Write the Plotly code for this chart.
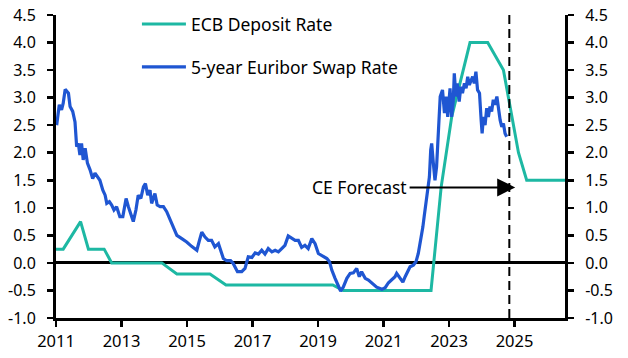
import plotly.graph_objects as go

# ECB deposit rate (decimal year, %), incl. CE forecast
ecb_years = [2011.00, 2011.22, 2011.75, 2011.99, 2012.47, 2012.70, 2014.23, 2014.69,
             2015.70, 2016.19, 2019.45, 2019.77, 2022.45, 2022.76, 2023.08, 2023.34,
             2023.64, 2024.18, 2024.66, 2025.12, 2025.37, 2026.54]
ecb_rate = [0.25, 0.25, 0.75, 0.25, 0.25, 0.00, 0.00, -0.20,
            -0.20, -0.40, -0.40, -0.50, -0.50, 1.38, 2.65, 3.29,
            4.00, 4.00, 3.50, 2.00, 1.50, 1.50]

# 5-year Euribor swap rate (decimal year, %)
swap_years = [2011.02, 2011.10, 2011.17, 2011.22, 2011.28, 2011.38, 2011.43, 2011.51, 2011.58, 2011.63,
              2011.68, 2011.73, 2011.78, 2011.83, 2011.89, 2011.96, 2012.04, 2012.12, 2012.19, 2012.26,
              2012.34, 2012.43, 2012.50, 2012.55, 2012.63, 2012.70, 2012.77, 2012.85, 2012.95, 2013.04,
              2013.14, 2013.21, 2013.28, 2013.36, 2013.44, 2013.51, 2013.59, 2013.67, 2013.73, 2013.80,
              2013.87, 2013.92, 2014.02, 2014.09, 2014.18, 2014.28, 2014.38, 2014.48, 2014.58, 2014.69,
              2014.84, 2014.99, 2015.14, 2015.30, 2015.38, 2015.45, 2015.55, 2015.65, 2015.75, 2015.85,
              2015.96, 2016.03, 2016.11, 2016.21, 2016.33, 2016.41, 2016.54, 2016.67, 2016.77, 2016.87,
              2016.98, 2017.08, 2017.18, 2017.28, 2017.38, 2017.48, 2017.59, 2017.69, 2017.79, 2017.89,
              2017.99, 2018.09, 2018.20, 2018.30, 2018.40, 2018.50, 2018.60, 2018.70, 2018.81, 2018.91,
              2019.01, 2019.11, 2019.27, 2019.35, 2019.42, 2019.52, 2019.62, 2019.69, 2019.77, 2019.88,
              2019.98, 2020.08, 2020.18, 2020.26, 2020.33, 2020.44, 2020.54, 2020.64, 2020.79, 2020.95,
              2021.05, 2021.15, 2021.25, 2021.35, 2021.40, 2021.48, 2021.59, 2021.66, 2021.73, 2021.81,
              2021.91, 2021.99, 2022.06, 2022.14, 2022.20, 2022.24, 2022.28, 2022.32, 2022.37, 2022.40,
              2022.44, 2022.47, 2022.52, 2022.57, 2022.62, 2022.67, 2022.73, 2022.80, 2022.86, 2022.91,
              2022.96, 2023.03, 2023.08, 2023.13, 2023.16, 2023.21, 2023.25, 2023.31, 2023.36, 2023.41,
              2023.47, 2023.52, 2023.57, 2023.62, 2023.67, 2023.72, 2023.77, 2023.82, 2023.87, 2023.93,
              2023.98, 2024.01, 2024.05, 2024.10, 2024.15, 2024.20, 2024.25, 2024.30, 2024.35, 2024.40,
              2024.46, 2024.51, 2024.56, 2024.61, 2024.66, 2024.71, 2024.76]
swap_rate = [2.50, 2.87, 2.78, 2.90, 3.15, 3.08, 2.84, 2.75, 2.56, 2.11,
             2.17, 1.96, 2.17, 1.87, 2.08, 1.81, 1.69, 1.53, 1.63, 1.56,
             1.50, 1.32, 1.23, 1.08, 1.11, 1.05, 0.96, 1.02, 0.84, 0.84,
             1.17, 1.02, 0.90, 0.75, 0.96, 1.23, 1.17, 1.38, 1.44, 1.23,
             1.32, 1.08, 1.26, 1.05, 1.02, 1.02, 0.93, 0.78, 0.63, 0.50,
             0.44, 0.38, 0.30, 0.23, 0.41, 0.56, 0.47, 0.41, 0.41, 0.29,
             0.35, 0.20, 0.08, 0.04, 0.04, -0.01, -0.16, -0.16, -0.10, 0.11,
             0.10, 0.18, 0.16, 0.23, 0.16, 0.26, 0.20, 0.23, 0.20, 0.26,
             0.32, 0.49, 0.45, 0.41, 0.41, 0.28, 0.32, 0.26, 0.44, 0.35,
             0.17, 0.14, 0.08, 0.02, -0.13, -0.28, -0.41, -0.51, -0.44, -0.28,
             -0.19, -0.18, -0.10, -0.25, -0.16, -0.28, -0.31, -0.37, -0.44, -0.48,
             -0.45, -0.36, -0.30, -0.25, -0.19, -0.25, -0.35, -0.25, -0.16, -0.07,
             -0.04, 0.02, 0.17, 0.41, 0.65, 0.84, 1.02, 1.26, 1.44, 1.56,
             2.05, 2.17, 1.81, 1.50, 1.75, 2.47, 3.02, 3.14, 2.72, 3.02,
             2.65, 3.17, 2.65, 2.96, 3.44, 3.02, 3.26, 2.93, 3.20, 3.08,
             3.26, 3.17, 3.38, 3.23, 3.29, 3.38, 3.26, 3.47, 3.14, 3.08,
             2.59, 2.35, 2.65, 2.50, 2.81, 2.65, 2.84, 2.75, 2.96, 2.87,
             3.02, 2.78, 2.59, 2.47, 2.53, 2.35, 2.29]

x_ticks = [2011, 2013, 2015, 2017, 2019, 2021, 2023, 2025]
x_ticklabels = ["2011", "2013", "2015", "2017", "2019", "2021", "2023", "2025"]
y_ticks = [-1.0, -0.5, 0.0, 0.5, 1.0, 1.5, 2.0, 2.5, 3.0, 3.5, 4.0, 4.5]
y_ticklabels = ["-1.0", "-0.5", "0.0", "0.5", "1.0", "1.5", "2.0", "2.5", "3.0", "3.5", "4.0", "4.5"]
x_range = [2011.0, 2026.54]
y_range = [-1.0, 4.5]
forecast_start = 2024.84
arrow_level = 1.37
arrow_tail = 2021.75
arrow_head = 2025.02

FONT = "Noto Sans"
TEAL = "#1DB8A3"
BLUE = "#1F56D2"

fig = go.Figure()
fig.add_trace(go.Scatter(x=ecb_years, y=ecb_rate, mode="lines", name="ECB Deposit Rate",
                         line=dict(color=TEAL, width=3), legendgroup="a", hoverinfo="skip"))
fig.add_trace(go.Scatter(x=swap_years, y=swap_rate, mode="lines", name="5-year Euribor Swap Rate",
                         line=dict(color=BLUE, width=3.2), legendgroup="b", hoverinfo="skip"))
# invisible trace to activate the right-hand axis
fig.add_trace(go.Scatter(x=ecb_years, y=ecb_rate, mode="lines", yaxis="y2", showlegend=False,
                         line=dict(color="rgba(0,0,0,0)", width=0), hoverinfo="skip"))

axis_common = dict(range=y_range, tickvals=y_ticks, ticktext=y_ticklabels, showgrid=False,
                   showline=True, linecolor="black", linewidth=3, ticks="outside", ticklen=6,
                   tickwidth=2.5, tickcolor="black", automargin=False,
                   tickfont=dict(family=FONT, size=16, color="black"), fixedrange=True)

fig.update_layout(
    width=628, height=358,
    margin=dict(l=56, r=63, t=15, b=40, autoexpand=False),
    paper_bgcolor="white", plot_bgcolor="white",
    showlegend=True,
    legend=dict(x=0.159, y=1.029, xanchor="left", yanchor="top", bgcolor="rgba(0,0,0,0)",
                font=dict(family=FONT, size=17.5, color="black"), tracegroupgap=17,
                itemwidth=44, itemclick=False, itemdoubleclick=False),
    xaxis=dict(range=x_range, tickvals=x_ticks, ticktext=x_ticklabels, showgrid=False,
               showline=True, linecolor="black", linewidth=3, ticks="outside", ticklen=6,
               tickwidth=2.5, tickcolor="black", zeroline=False, automargin=False,
               tickfont=dict(family=FONT, size=16.5, color="black"), fixedrange=True),
    yaxis=dict(**axis_common, side="left", zeroline=True, zerolinecolor="black", zerolinewidth=3,
               ticklabelstandoff=8),
    yaxis2=dict(**axis_common, side="right", overlaying="y", zeroline=False, ticklabelstandoff=8),
    hovermode=False,
)

fig.add_shape(type="line", xref="x", yref="paper", x0=forecast_start, x1=forecast_start,
              y0=0, y1=1.012, line=dict(color="black", width=2, dash="9px,5px"))

fig.add_annotation(x=arrow_head, y=arrow_level, ax=arrow_tail, ay=arrow_level,
                   xref="x", yref="y", axref="x", ayref="y", text="", showarrow=True,
                   arrowhead=2, arrowsize=1.8, arrowwidth=2, arrowcolor="black")
fig.add_annotation(x=arrow_tail, y=arrow_level, xref="x", yref="y", text="CE Forecast",
                   showarrow=False, xanchor="right", yanchor="middle", xshift=1,
                   font=dict(family=FONT, size=17.5, color="black"))

fig.write_html("out.html", config={"displayModeBar": False, "staticPlot": True},
               post_script="document.body.style.margin='0';document.body.style.padding='0';")
